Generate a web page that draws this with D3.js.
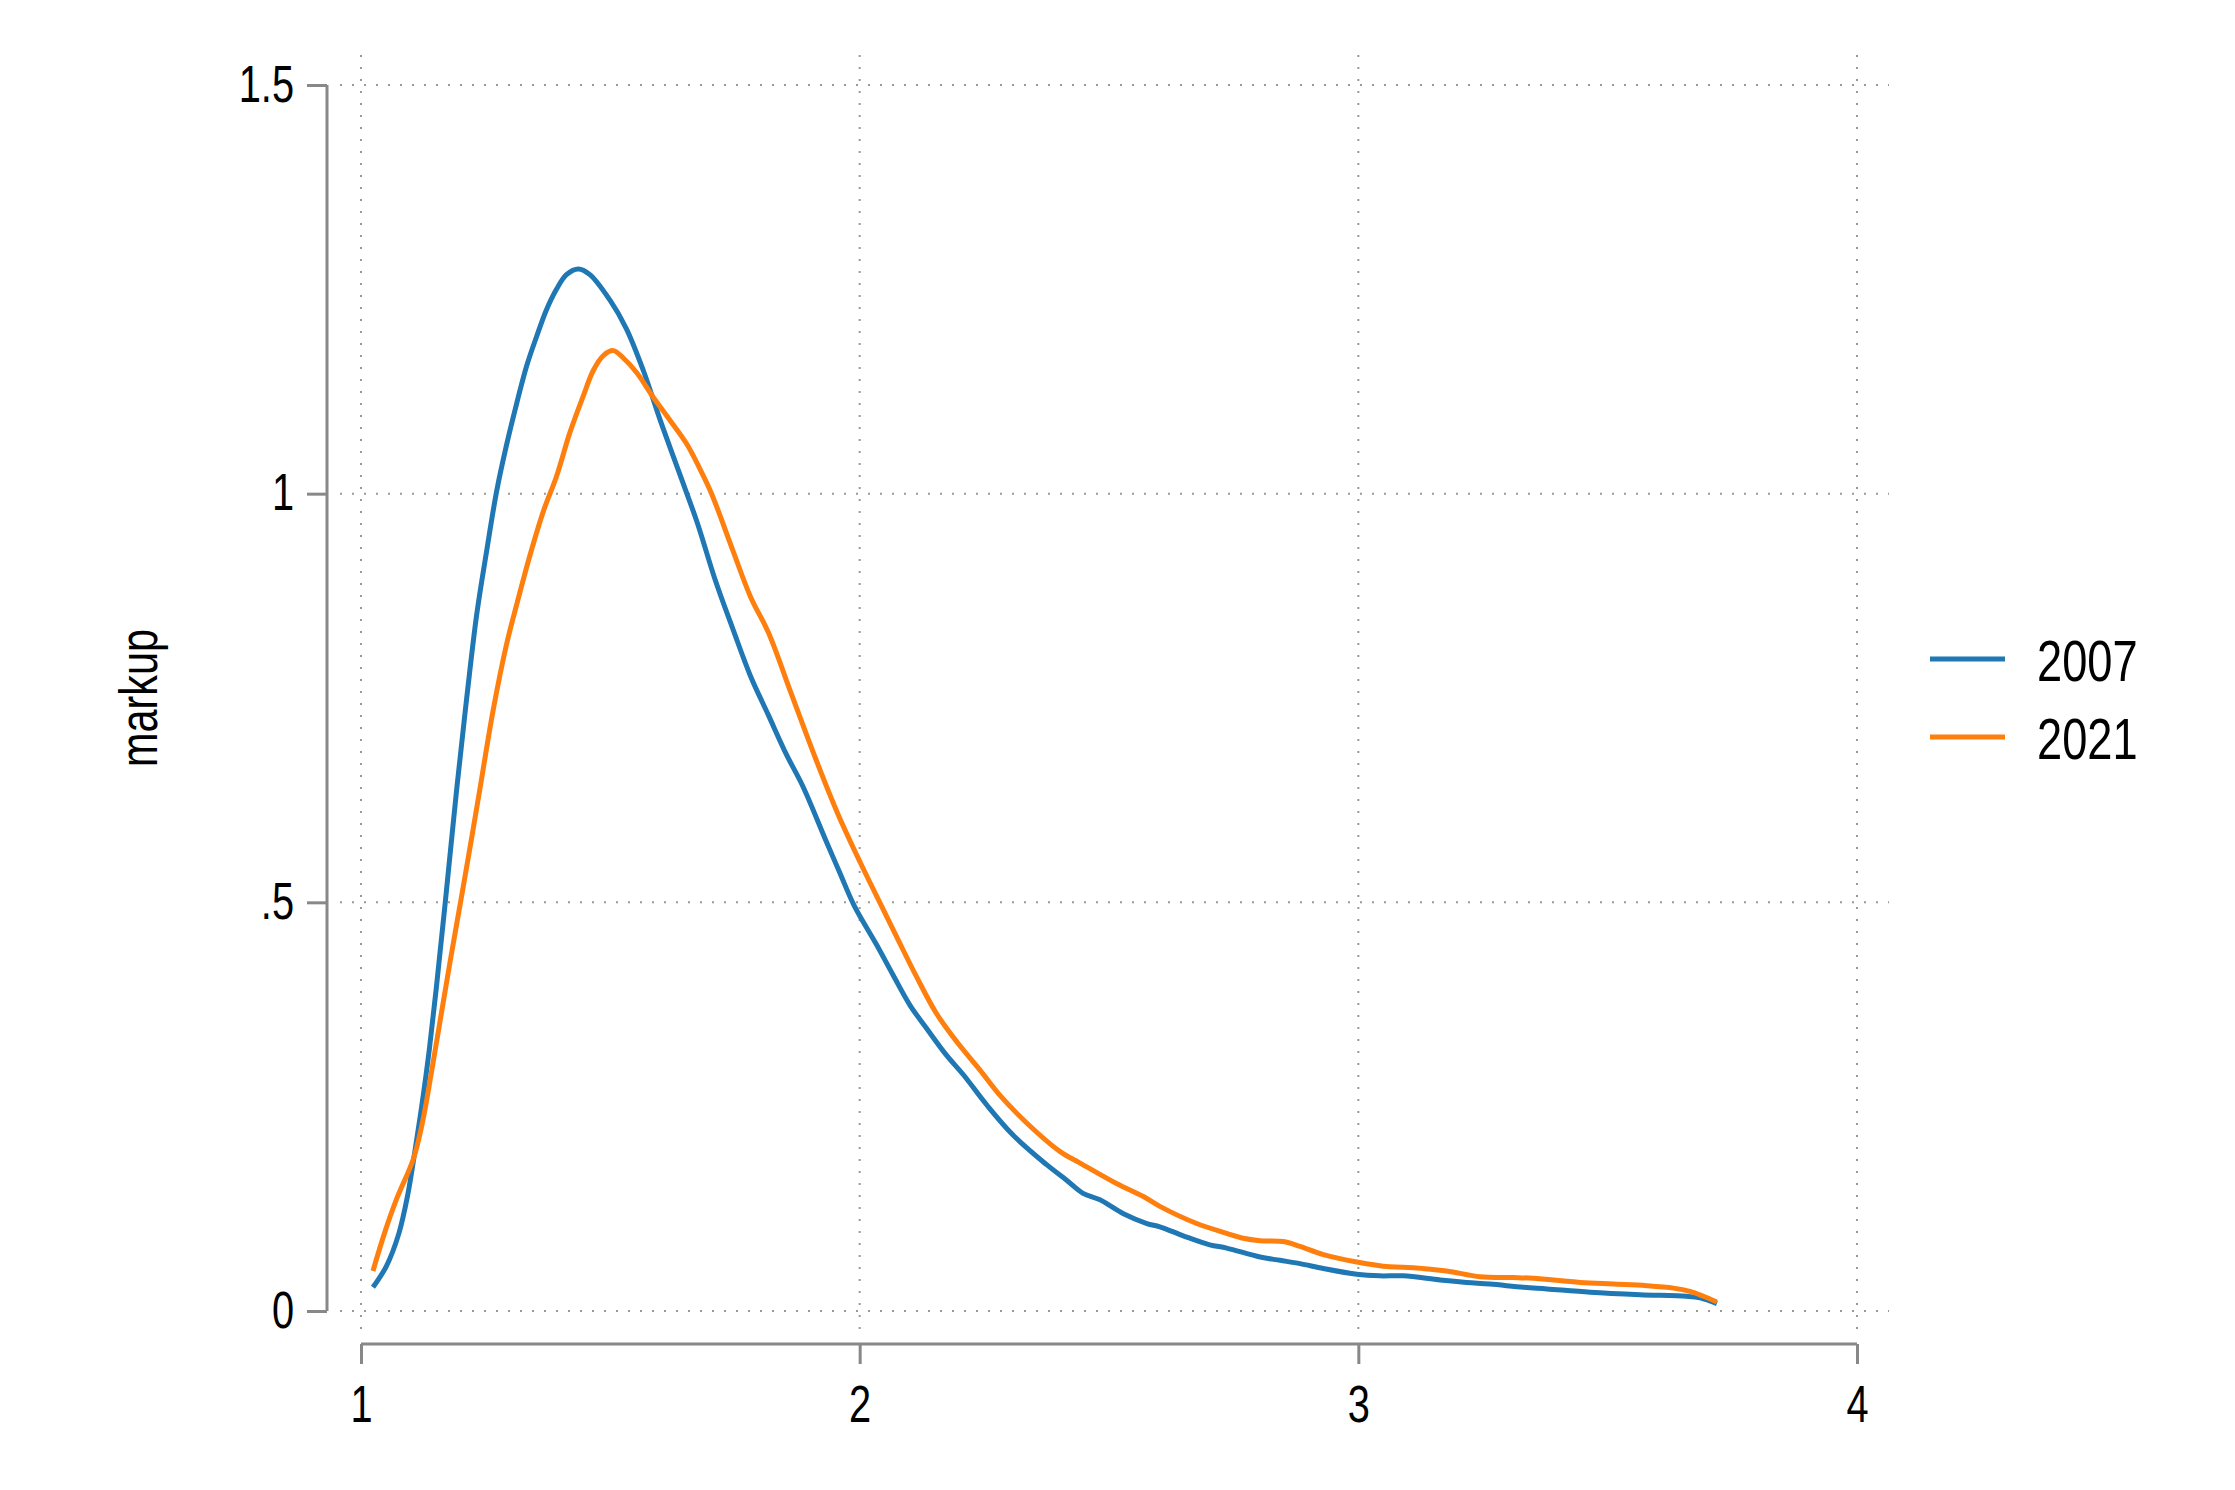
<!DOCTYPE html>
<html>
<head>
<meta charset="utf-8">
<script src="https://cdn.jsdelivr.net/npm/d3@7"></script>
<style>
  body { margin: 0; background: #fff; }
  text { font-family: "Liberation Sans", Arial, sans-serif; fill: #000; }
</style>
</head>
<body>
<script>
// kernel density of markup, two years
var years = ["2007", "2021"];
var colors = ["#1f77b4", "#ff7f0e"];

var x2007 = [1.024, 1.051, 1.076, 1.094, 1.108, 1.123, 1.137, 1.151, 1.169, 1.192, 1.212, 1.232, 1.252, 1.272, 1.292, 1.312,
  1.332, 1.352, 1.372, 1.392, 1.412, 1.436, 1.459, 1.499, 1.532, 1.566, 1.600, 1.638, 1.674, 1.710, 1.746, 1.781,
  1.817, 1.853, 1.886, 1.932, 1.961, 1.989, 2.034, 2.067, 2.101,
  2.134, 2.174, 2.208, 2.255, 2.308, 2.375, 2.415, 2.448, 2.482, 2.529, 2.576, 2.602, 2.649, 2.702, 2.736, 2.803,
  2.843, 2.883, 2.930, 2.997, 3.043, 3.090, 3.164, 3.217, 3.264, 3.331, 3.378, 3.465, 3.565, 3.658, 3.685, 3.719];
var y2007 = [0.029, 0.055, 0.095, 0.143, 0.195, 0.256, 0.320, 0.395, 0.500, 0.639, 0.750, 0.852, 0.930, 1.003, 1.060, 1.110,
  1.156, 1.192, 1.225, 1.250, 1.268, 1.275, 1.268, 1.237, 1.202, 1.151, 1.090, 1.026, 0.965, 0.895, 0.834, 0.777,
  0.729, 0.681, 0.642, 0.576, 0.535, 0.496, 0.448, 0.411, 0.374,
  0.346, 0.313, 0.289, 0.252, 0.215, 0.179, 0.160, 0.144, 0.136, 0.119, 0.107, 0.103, 0.092, 0.081, 0.077, 0.066,
  0.062, 0.058, 0.052, 0.045, 0.043, 0.043, 0.038, 0.035, 0.033, 0.029, 0.027, 0.023, 0.020, 0.018, 0.016, 0.009];

var x2021 = [1.024, 1.047, 1.072, 1.105, 1.123, 1.141, 1.160, 1.180, 1.201, 1.220, 1.238, 1.265, 1.292, 1.319, 1.339, 1.366,
  1.392, 1.419, 1.446, 1.466, 1.486, 1.506, 1.526, 1.553, 1.586, 1.617, 1.653, 1.679, 1.703, 1.746, 1.781,
  1.817, 1.863, 1.909, 1.955, 2.001, 2.041, 2.074, 2.114, 2.154, 2.194, 2.241, 2.281, 2.335, 2.402,
  2.442, 2.515, 2.569, 2.602, 2.676, 2.736, 2.769, 2.803, 2.850, 2.883, 2.930, 2.997, 3.063, 3.110, 3.177, 3.244,
  3.311, 3.351, 3.445, 3.511, 3.578, 3.632, 3.665, 3.692, 3.719];
var y2021 = [0.049, 0.095, 0.138, 0.186, 0.230, 0.291, 0.360, 0.432, 0.505, 0.572, 0.637, 0.735, 0.816, 0.880, 0.925, 0.979,
  1.021, 1.075, 1.120, 1.151, 1.169, 1.175, 1.166, 1.148, 1.118, 1.092, 1.061, 1.031, 1.000, 0.930, 0.874,
  0.830, 0.755, 0.680, 0.610, 0.549, 0.499, 0.458, 0.409, 0.364, 0.330, 0.295, 0.264, 0.230, 0.195,
  0.181, 0.156, 0.140, 0.128, 0.107, 0.095, 0.089, 0.086, 0.085, 0.079, 0.069, 0.060, 0.054, 0.053, 0.049, 0.042,
  0.041, 0.040, 0.035, 0.033, 0.031, 0.028, 0.024, 0.018, 0.011];

var xTicks = [1, 2, 3, 4];
var yTicks = [0, 0.5, 1, 1.5];
var yTickLabels = ["0", ".5", "1", "1.5"];
var yTitle = "markup";

var W = 2235, H = 1490;
var gray = "#888";
var narrow = 0.78; // horizontal squeeze, the original uses a condensed face

var svg = d3.select("body").append("svg")
    .attr("width", W)
    .attr("height", H);

var x = d3.scaleLinear().domain([1, 4]).range([361, 1857]);
var y = d3.scaleLinear().domain([0, 1.5]).range([1311, 85]);

// plot region (grid extent)
var pr = {left: 340, right: 1889, top: 55, bottom: 1331};

// dotted grid
svg.append("g").selectAll("line")
    .data(yTicks)
  .enter().append("line")
    .attr("x1", pr.left).attr("x2", pr.right)
    .attr("y1", d => y(d)).attr("y2", d => y(d))
    .attr("stroke", "#999").attr("stroke-width", 2)
    .attr("stroke-dasharray", "2,10");

svg.append("g").selectAll("line")
    .data(xTicks)
  .enter().append("line")
    .attr("x1", d => x(d)).attr("x2", d => x(d))
    .attr("y1", pr.top).attr("y2", pr.bottom)
    .attr("stroke", "#999").attr("stroke-width", 2)
    .attr("stroke-dasharray", "2,10");

// y axis
var yAxis = d3.axisLeft(y)
    .tickValues(yTicks)
    .tickSize(20)
    .tickPadding(13)
    .tickFormat((d, i) => yTickLabels[i]);

var gy = svg.append("g")
    .attr("transform", "translate(327,0)")
    .call(yAxis);
gy.select(".domain").attr("stroke", gray).attr("stroke-width", 3)
    .attr("d", "M0," + y(1.5) + "V" + y(0));
gy.selectAll(".tick line").attr("stroke", gray).attr("stroke-width", 3);
gy.selectAll(".tick text")
    .attr("font-size", 51).attr("fill", "#000")
    .attr("x", -33 / narrow)
    .attr("transform", "scale(" + narrow + ",1)")
    .style("font-family", '"Liberation Sans", Arial, sans-serif');

// x axis
var xAxis = d3.axisBottom(x)
    .tickValues(xTicks)
    .tickSize(20)
    .tickPadding(22)
    .tickFormat(d3.format("d"));

var gx = svg.append("g")
    .attr("transform", "translate(0,1344)")
    .call(xAxis);
gx.select(".domain").attr("stroke", gray).attr("stroke-width", 3)
    .attr("d", "M" + x(1) + ",0H" + x(4));
gx.selectAll(".tick line").attr("stroke", gray).attr("stroke-width", 3);
gx.selectAll(".tick text")
    .attr("font-size", 51).attr("fill", "#000")
    .attr("transform", "scale(" + narrow + ",1)")
    .style("font-family", '"Liberation Sans", Arial, sans-serif');

// y title
svg.append("text")
    .attr("transform", "translate(157,698) rotate(-90) scale(" + narrow + ",1)")
    .attr("text-anchor", "middle")
    .attr("font-size", 53)
    .text(yTitle);

// density lines
var series = [
  {name: years[0], xs: x2007, ys: y2007, color: colors[0]},
  {name: years[1], xs: x2021, ys: y2021, color: colors[1]}
];

var line = d3.line()
    .x(d => x(d[0]))
    .y(d => y(d[1]))
    .curve(d3.curveCatmullRom.alpha(0.5));

svg.append("g").selectAll("path")
    .data(series)
  .enter().append("path")
    .attr("d", s => line(d3.zip(s.xs, s.ys)))
    .attr("fill", "none")
    .attr("stroke", s => s.color)
    .attr("stroke-width", 5)
    .attr("stroke-linejoin", "round");

// legend
var leg = svg.append("g").selectAll("g")
    .data(series)
  .enter().append("g")
    .attr("transform", (d, i) => "translate(0," + (659 + i * 78) + ")");

leg.append("line")
    .attr("x1", 1930).attr("x2", 2005)
    .attr("stroke", d => d.color)
    .attr("stroke-width", 5);

leg.append("text")
    .attr("transform", "translate(2037,22) scale(" + narrow + ",1)")
    .attr("font-size", 58)
    .text(d => d.name);
</script>
</body>
</html>
